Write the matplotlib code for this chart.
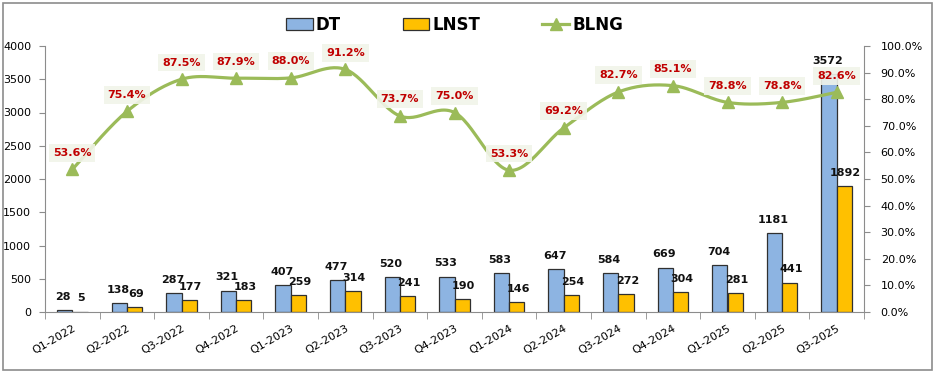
import numpy as np
import matplotlib.pyplot as plt
from matplotlib.patches import Rectangle, Patch
from matplotlib.lines import Line2D

quarters = ['Q1-2022', 'Q2-2022', 'Q3-2022', 'Q4-2022', 'Q1-2023', 'Q2-2023', 'Q3-2023', 'Q4-2023',
            'Q1-2024', 'Q2-2024', 'Q3-2024', 'Q4-2024', 'Q1-2025', 'Q2-2025', 'Q3-2025']
dt = [28, 138, 287, 321, 407, 477, 520, 533, 583, 647, 584, 669, 704, 1181, 3572]
lnst = [5, 69, 177, 183, 259, 314, 241, 190, 146, 254, 272, 304, 281, 441, 1892]
blng = [53.6, 75.4, 87.5, 87.9, 88.0, 91.2, 73.7, 75.0, 53.3, 69.2, 82.7, 85.1, 78.8, 78.8, 82.6]

c_dt = '#8DB4E2'
c_lnst = '#FFC000'
c_line = '#9BBB59'
c_spine = '#8C8C8C'


def smooth(x, y, n=30):
    # Excel-style smoothed line (Bezier with Catmull-Rom control points)
    x = np.asarray(x, float)
    y = np.asarray(y, float)
    px = np.concatenate([[x[0]], x, [x[-1]]])
    py = np.concatenate([[y[0]], y, [y[-1]]])
    xs, ys = [], []
    t = np.linspace(0, 1, n)
    for i in range(1, len(px) - 2):
        p0 = np.array([px[i], py[i]])
        p3 = np.array([px[i + 1], py[i + 1]])
        p1 = p0 + (np.array([px[i + 1], py[i + 1]]) - np.array([px[i - 1], py[i - 1]])) / 6
        p2 = p3 - (np.array([px[i + 2], py[i + 2]]) - np.array([px[i], py[i]])) / 6
        b = ((1 - t) ** 3)[:, None] * p0 + (3 * (1 - t) ** 2 * t)[:, None] * p1 \
            + (3 * (1 - t) * t ** 2)[:, None] * p2 + (t ** 3)[:, None] * p3
        xs.extend(b[:, 0])
        ys.extend(b[:, 1])
    return np.array(xs), np.array(ys)


fig = plt.figure(figsize=(9.36, 3.76), dpi=100)
ax = fig.add_axes([45 / 936, 1 - 312 / 376, (864 - 45) / 936, (312 - 46) / 376])
ax2 = ax.twinx()

x = np.arange(len(quarters))
w = 0.28
ax.bar(x - w / 2, dt, w, color=c_dt, edgecolor='#303030', linewidth=0.9, zorder=2)
ax.bar(x + w / 2, lnst, w, color=c_lnst, edgecolor='#303030', linewidth=0.9, zorder=2)

for xi, v in zip(x, dt):
    ax.annotate(str(v), (xi - w / 2, v), xytext=(-1, 9.5), textcoords='offset points',
                ha='center', va='center', fontsize=8, fontweight='bold', color='#111111', zorder=5)
for xi, v in zip(x, lnst):
    ax.annotate(str(v), (xi + w / 2, v), xytext=(1, 9.5), textcoords='offset points',
                ha='center', va='center', fontsize=8, fontweight='bold', color='#111111', zorder=5)

sx, sy = smooth(x, blng)
ax2.plot(sx, sy, color=c_line, linewidth=2.3, zorder=3)
ax2.plot(x, blng, linestyle='none', marker='^', markersize=8, color=c_line, zorder=4)
for xi, v in zip(x, blng):
    ax2.annotate(f'{v:.1f}%', (xi, v), xytext=(0, 12), textcoords='offset points',
                 ha='center', va='center', fontsize=8, fontweight='bold', color='#C00000',
                 bbox=dict(boxstyle='square,pad=0.35', facecolor='#F1F4E9', edgecolor='none', alpha=0.9),
                 zorder=6)

ax.set_xlim(-0.5, len(quarters) - 0.5)
ax.set_ylim(0, 4000)
ax.set_yticks(np.arange(0, 4001, 500))
ax2.set_ylim(0, 100)
ax2.set_yticks(np.arange(0, 101, 10))
ax2.set_yticklabels([f'{v:.1f}%' for v in np.arange(0, 101, 10)])

ax.set_xticks(x)
ax.set_xticklabels(quarters, rotation=30, ha='right', rotation_mode='anchor', fontsize=8)
ax.set_xticks(np.arange(-0.5, len(quarters), 1), minor=True)
ax.tick_params(axis='x', which='major', length=0, pad=8)
ax.tick_params(axis='x', which='minor', length=5, color=c_spine, direction='out')
ax.tick_params(axis='y', labelsize=8, length=4, color=c_spine, pad=6)
ax2.tick_params(axis='y', labelsize=8, length=4, color=c_spine, pad=8)

for a in (ax, ax2):
    a.spines['top'].set_visible(False)
    for s in ('left', 'right', 'bottom'):
        a.spines[s].set_color(c_spine)
ax.spines['right'].set_visible(False)
ax2.spines['left'].set_visible(False)
ax2.spines['bottom'].set_visible(False)

ax.set_zorder(ax2.get_zorder() - 1)
ax.patch.set_visible(False)
ax2.patch.set_visible(False)

handles = [Patch(facecolor=c_dt, edgecolor='#303030', linewidth=0.9),
           Patch(facecolor=c_lnst, edgecolor='#303030', linewidth=0.9),
           Line2D([0], [0], color=c_line, linewidth=2.3, marker='^', markersize=8)]
ax2.legend(handles, ['DT', 'LNST', 'BLNG'], loc='center', bbox_to_anchor=(0.5, 1.08),
           ncol=3, frameon=False, prop={'size': 12, 'weight': 'bold'},
           handlelength=1.6, handleheight=0.8, handletextpad=0.2, columnspacing=3.7)

fig.patches.append(Rectangle((3 / 936, 6 / 376), 929 / 936, 367 / 376, transform=fig.transFigure,
                             fill=False, edgecolor='#8C8C8C', linewidth=1.2))

fig.savefig('out.png', dpi=100)
